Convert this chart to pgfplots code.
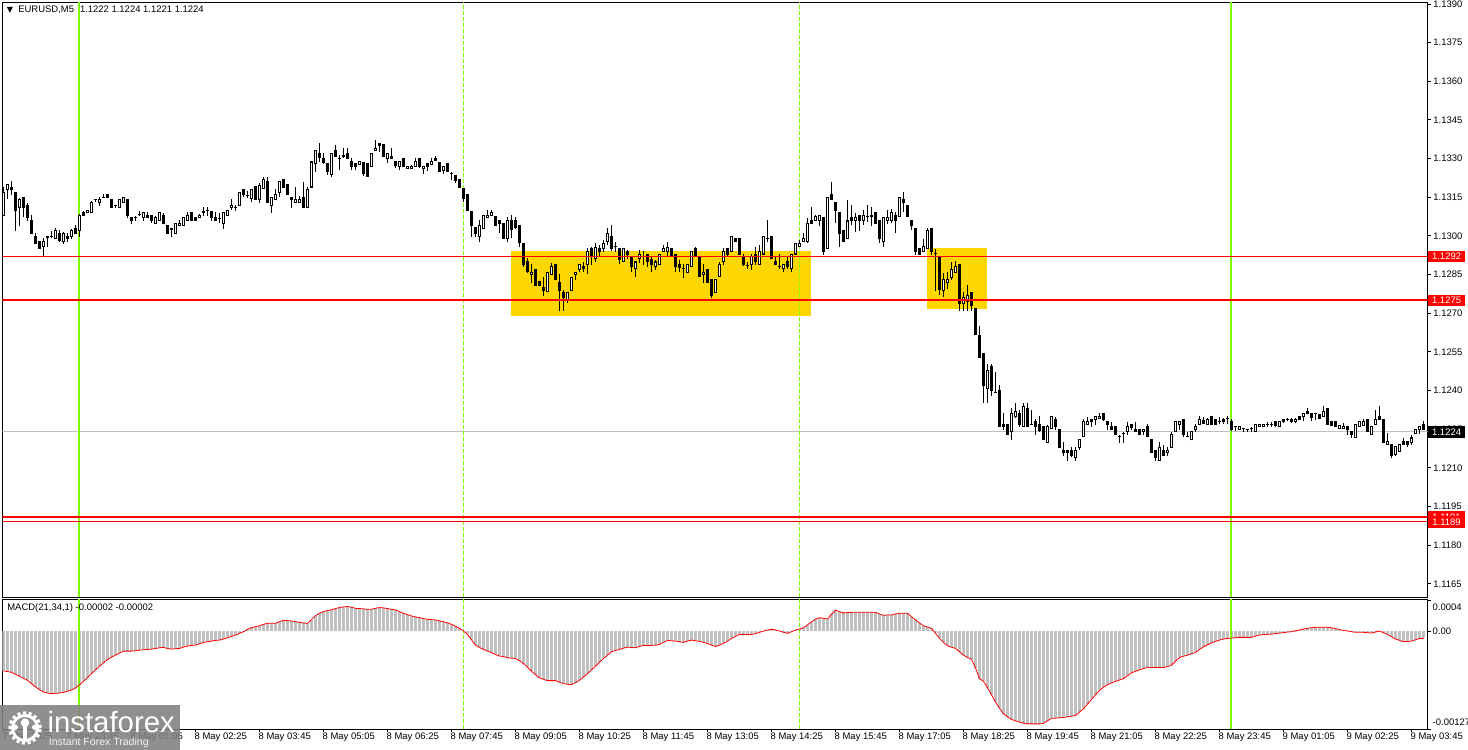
\documentclass[border=0pt]{standalone}
\usepackage{fontspec}
\setmainfont{Liberation Sans}
\newfontfamily\symfont{DejaVu Sans}
\usepackage{pgfplots}
\usepackage{pgfplotstable}
\pgfplotsset{compat=1.18}
\definecolor{limeline}{HTML}{7CFC00}
\definecolor{boxgold}{HTML}{FFD700}
\definecolor{histgray}{HTML}{C0C0C0}
\newcommand{\chartfont}{\fontsize{7.1}{8.5}\selectfont}

% EURUSD M5: bar, open, high, low, close
\pgfplotstableread{
k o h l c
0 1.13079 1.13191 1.13079 1.13168
1 1.13181 1.13202 1.13144 1.13201
2 1.13189 1.13213 1.13159 1.13181
3 1.13170 1.13172 1.13021 1.13098
4 1.13110 1.13147 1.13039 1.13144
5 1.13150 1.13151 1.13074 1.13110
6 1.13120 1.13129 1.13059 1.13069
7 1.13062 1.13081 1.13009 1.13009
8 1.12999 1.13010 1.12970 1.12970
9 1.12981 1.12981 1.12951 1.12951
10 1.12958 1.12991 1.12922 1.12981
11 1.12995 1.13000 1.12958 1.12996
12 1.12998 1.13021 1.12991 1.13000
13 1.12990 1.13030 1.12988 1.13023
14 1.13012 1.13023 1.12978 1.12981
15 1.12976 1.13017 1.12969 1.13010
16 1.13000 1.13010 1.12976 1.12990
17 1.12997 1.13027 1.12988 1.13023
18 1.13031 1.13043 1.13008 1.13008
19 1.13021 1.13085 1.12995 1.13081
20 1.13092 1.13097 1.13078 1.13078
21 1.13090 1.13101 1.13090 1.13101
22 1.13090 1.13136 1.13090 1.13131
23 1.13142 1.13144 1.13131 1.13143
24 1.13129 1.13152 1.13116 1.13144
25 1.13149 1.13162 1.13149 1.13149
26 1.13162 1.13162 1.13149 1.13149
27 1.13144 1.13144 1.13109 1.13110
28 1.13118 1.13118 1.13110 1.13118
29 1.13110 1.13144 1.13110 1.13142
30 1.13129 1.13151 1.13129 1.13150
31 1.13144 1.13144 1.13071 1.13078
32 1.13073 1.13073 1.13047 1.13059
33 1.13070 1.13079 1.13059 1.13070
34 1.13081 1.13098 1.13078 1.13081
35 1.13070 1.13093 1.13058 1.13092
36 1.13081 1.13092 1.13070 1.13070
37 1.13081 1.13081 1.13052 1.13059
38 1.13047 1.13078 1.13047 1.13073
39 1.13059 1.13093 1.13059 1.13092
40 1.13081 1.13090 1.13047 1.13047
41 1.13043 1.13043 1.13009 1.13009
42 1.13026 1.13030 1.12997 1.13026
43 1.13009 1.13050 1.13009 1.13049
44 1.13040 1.13062 1.13040 1.13049
45 1.13040 1.13074 1.13040 1.13073
46 1.13059 1.13092 1.13059 1.13081
47 1.13092 1.13092 1.13059 1.13059
48 1.13071 1.13071 1.13059 1.13059
49 1.13070 1.13085 1.13070 1.13081
50 1.13092 1.13111 1.13078 1.13092
51 1.13098 1.13111 1.13078 1.13098
52 1.13094 1.13094 1.13059 1.13070
53 1.13073 1.13093 1.13059 1.13059
54 1.13065 1.13088 1.13049 1.13065
55 1.13047 1.13092 1.13027 1.13092
56 1.13079 1.13101 1.13079 1.13101
57 1.13110 1.13142 1.13101 1.13120
58 1.13111 1.13120 1.13098 1.13111
59 1.13119 1.13170 1.13119 1.13170
60 1.13181 1.13181 1.13151 1.13159
61 1.13156 1.13176 1.13146 1.13156
62 1.13144 1.13181 1.13132 1.13181
63 1.13191 1.13191 1.13142 1.13142
64 1.13142 1.13204 1.13129 1.13198
65 1.13185 1.13230 1.13185 1.13220
66 1.13213 1.13230 1.13129 1.13129
67 1.13118 1.13151 1.13090 1.13149
68 1.13142 1.13181 1.13142 1.13163
69 1.13168 1.13213 1.13153 1.13213
70 1.13220 1.13220 1.13189 1.13189
71 1.13201 1.13201 1.13159 1.13159
72 1.13149 1.13149 1.13110 1.13140
73 1.13129 1.13189 1.13129 1.13144
74 1.13129 1.13156 1.13129 1.13144
75 1.13149 1.13211 1.13109 1.13111
76 1.13111 1.13190 1.13111 1.13181
77 1.13189 1.13291 1.13189 1.13288
78 1.13282 1.13334 1.13249 1.13334
79 1.13321 1.13360 1.13288 1.13305
80 1.13301 1.13321 1.13278 1.13286
81 1.13282 1.13282 1.13237 1.13249
82 1.13237 1.13321 1.13230 1.13321
83 1.13334 1.13353 1.13308 1.13308
84 1.13301 1.13314 1.13256 1.13301
85 1.13314 1.13340 1.13301 1.13307
86 1.13321 1.13340 1.13299 1.13299
87 1.13291 1.13303 1.13256 1.13269
88 1.13282 1.13282 1.13256 1.13269
89 1.13278 1.13291 1.13278 1.13291
90 1.13286 1.13286 1.13233 1.13240
91 1.13282 1.13282 1.13230 1.13230
92 1.13269 1.13321 1.13269 1.13321
93 1.13331 1.13372 1.13331 1.13340
94 1.13360 1.13360 1.13326 1.13350
95 1.13356 1.13357 1.13308 1.13308
96 1.13299 1.13321 1.13282 1.13321
97 1.13310 1.13340 1.13299 1.13299
98 1.13291 1.13291 1.13264 1.13273
99 1.13269 1.13291 1.13256 1.13291
100 1.13301 1.13301 1.13269 1.13269
101 1.13260 1.13269 1.13260 1.13269
102 1.13260 1.13275 1.13260 1.13269
103 1.13269 1.13301 1.13269 1.13291
104 1.13301 1.13301 1.13263 1.13269
105 1.13260 1.13269 1.13240 1.13269
106 1.13282 1.13282 1.13253 1.13269
107 1.13278 1.13304 1.13278 1.13291
108 1.13301 1.13310 1.13291 1.13291
109 1.13286 1.13286 1.13249 1.13249
110 1.13253 1.13269 1.13240 1.13269
111 1.13282 1.13282 1.13249 1.13249
112 1.13240 1.13249 1.13217 1.13240
113 1.13234 1.13234 1.13207 1.13213
114 1.13220 1.13220 1.13189 1.13189
115 1.13185 1.13185 1.13133 1.13146
116 1.13163 1.13163 1.13098 1.13098
117 1.13094 1.13094 1.12997 1.13040
118 1.13032 1.13032 1.12997 1.13009
119 1.12997 1.13062 1.12978 1.13043
120 1.13027 1.13081 1.13027 1.13081
121 1.13071 1.13101 1.13071 1.13081
122 1.13079 1.13101 1.13079 1.13092
123 1.13075 1.13075 1.13040 1.13040
124 1.13059 1.13059 1.13010 1.13047
125 1.13049 1.13049 1.12991 1.12991
126 1.12988 1.13075 1.12978 1.13062
127 1.13059 1.13081 1.12991 1.13023
128 1.13062 1.13074 1.13027 1.13031
129 1.13043 1.13043 1.12958 1.12973
130 1.12972 1.12972 1.12881 1.12887
131 1.12903 1.12915 1.12858 1.12860
132 1.12851 1.12890 1.12816 1.12859
133 1.12872 1.12872 1.12807 1.12807
134 1.12823 1.12823 1.12807 1.12807
135 1.12802 1.12842 1.12767 1.12787
136 1.12782 1.12859 1.12782 1.12859
137 1.12851 1.12894 1.12849 1.12884
138 1.12891 1.12891 1.12829 1.12829
139 1.12820 1.12851 1.12709 1.12787
140 1.12782 1.12790 1.12710 1.12761
141 1.12754 1.12782 1.12739 1.12782
142 1.12788 1.12840 1.12788 1.12840
143 1.12849 1.12859 1.12829 1.12859
144 1.12868 1.12890 1.12859 1.12890
145 1.12884 1.12900 1.12861 1.12872
146 1.12890 1.12953 1.12851 1.12942
147 1.12952 1.12958 1.12887 1.12920
148 1.12910 1.12972 1.12900 1.12958
149 1.12952 1.12965 1.12924 1.12939
150 1.12952 1.12984 1.12939 1.12972
151 1.12978 1.13030 1.12965 1.13010
152 1.13000 1.13043 1.12942 1.12952
153 1.12958 1.12978 1.12939 1.12958
154 1.12952 1.12952 1.12890 1.12907
155 1.12900 1.12952 1.12900 1.12952
156 1.12942 1.12946 1.12910 1.12926
157 1.12920 1.12920 1.12861 1.12881
158 1.12871 1.12900 1.12840 1.12900
159 1.12910 1.12946 1.12894 1.12929
160 1.12920 1.12942 1.12887 1.12920
161 1.12929 1.12929 1.12881 1.12900
162 1.12910 1.12922 1.12861 1.12887
163 1.12881 1.12907 1.12868 1.12900
164 1.12887 1.12929 1.12887 1.12929
165 1.12939 1.12965 1.12939 1.12952
166 1.12939 1.12978 1.12924 1.12958
167 1.12952 1.12952 1.12920 1.12920
168 1.12929 1.12929 1.12859 1.12879
169 1.12890 1.12907 1.12861 1.12877
170 1.12872 1.12890 1.12838 1.12872
171 1.12859 1.12890 1.12859 1.12890
172 1.12881 1.12939 1.12881 1.12939
173 1.12952 1.12958 1.12920 1.12920
174 1.12920 1.12920 1.12840 1.12840
175 1.12851 1.12890 1.12816 1.12859
176 1.12872 1.12872 1.12819 1.12819
177 1.12833 1.12833 1.12761 1.12767
178 1.12778 1.12833 1.12778 1.12833
179 1.12840 1.12900 1.12840 1.12890
180 1.12900 1.12952 1.12887 1.12939
181 1.12952 1.12952 1.12920 1.12929
182 1.12939 1.13000 1.12939 1.13000
183 1.12991 1.12991 1.12978 1.12978
184 1.12991 1.12991 1.12926 1.12929
185 1.12920 1.12929 1.12884 1.12887
186 1.12884 1.12900 1.12871 1.12884
187 1.12887 1.12929 1.12868 1.12920
188 1.12929 1.12958 1.12887 1.12900
189 1.12890 1.12965 1.12890 1.12939
190 1.12929 1.13000 1.12929 1.13000
191 1.12988 1.13062 1.12978 1.12988
192 1.13000 1.13000 1.12910 1.12910
193 1.12903 1.12920 1.12890 1.12890
194 1.12881 1.12929 1.12871 1.12881
195 1.12871 1.12890 1.12859 1.12890
196 1.12900 1.12920 1.12871 1.12881
197 1.12871 1.12929 1.12859 1.12929
198 1.12929 1.12972 1.12929 1.12972
199 1.12958 1.12984 1.12958 1.12972
200 1.12978 1.13010 1.12978 1.12991
201 1.12978 1.13070 1.12973 1.13049
202 1.13062 1.13111 1.13049 1.13049
203 1.13059 1.13081 1.13059 1.13075
204 1.13059 1.13081 1.13039 1.13079
205 1.13071 1.13071 1.12926 1.12939
206 1.12952 1.13149 1.12952 1.13149
207 1.13163 1.13211 1.13142 1.13142
208 1.13131 1.13131 1.13049 1.13098
209 1.13092 1.13092 1.12958 1.13010
210 1.13021 1.13021 1.12978 1.12978
211 1.12988 1.13140 1.12988 1.13059
212 1.13073 1.13120 1.13043 1.13059
213 1.13059 1.13088 1.13017 1.13073
214 1.13079 1.13079 1.13021 1.13059
215 1.13059 1.13101 1.13043 1.13081
216 1.13073 1.13120 1.13055 1.13073
217 1.13073 1.13111 1.13040 1.13079
218 1.13092 1.13092 1.13047 1.13047
219 1.13062 1.13062 1.12974 1.12988
220 1.12978 1.13073 1.12958 1.13073
221 1.13059 1.13101 1.13047 1.13073
222 1.13059 1.13105 1.13049 1.13092
223 1.13081 1.13093 1.13010 1.13059
224 1.13073 1.13150 1.13073 1.13150
225 1.13142 1.13172 1.13092 1.13129
226 1.13120 1.13120 1.13073 1.13073
227 1.13062 1.13062 1.13023 1.13039
228 1.13030 1.13030 1.12926 1.12939
229 1.12952 1.12952 1.12926 1.12929
230 1.12939 1.12988 1.12939 1.12961
231 1.12950 1.13031 1.12950 1.13023
232 1.13030 1.13030 1.12926 1.12939
233 1.12930 1.12950 1.12787 1.12930
234 1.12920 1.12922 1.12771 1.12790
235 1.12788 1.12858 1.12762 1.12832
236 1.12819 1.12862 1.12793 1.12832
237 1.12838 1.12900 1.12829 1.12871
238 1.12859 1.12903 1.12859 1.12884
239 1.12890 1.12890 1.12710 1.12736
240 1.12736 1.12782 1.12710 1.12762
241 1.12745 1.12810 1.12710 1.12771
242 1.12782 1.12782 1.12710 1.12730
243 1.12719 1.12719 1.12616 1.12616
244 1.12613 1.12651 1.12529 1.12529
245 1.12545 1.12545 1.12351 1.12419
246 1.12406 1.12503 1.12351 1.12480
247 1.12493 1.12503 1.12380 1.12400
248 1.12390 1.12473 1.12390 1.12390
249 1.12402 1.12422 1.12260 1.12260
250 1.12271 1.12312 1.12247 1.12260
251 1.12271 1.12271 1.12228 1.12228
252 1.12241 1.12331 1.12208 1.12312
253 1.12299 1.12351 1.12294 1.12321
254 1.12312 1.12325 1.12260 1.12267
255 1.12260 1.12351 1.12260 1.12340
256 1.12331 1.12351 1.12260 1.12260
257 1.12269 1.12323 1.12267 1.12269
258 1.12280 1.12290 1.12228 1.12260
259 1.12269 1.12302 1.12241 1.12245
260 1.12260 1.12260 1.12208 1.12208
261 1.12198 1.12267 1.12198 1.12260
262 1.12250 1.12299 1.12250 1.12299
263 1.12290 1.12299 1.12247 1.12260
264 1.12250 1.12250 1.12179 1.12179
265 1.12170 1.12200 1.12146 1.12157
266 1.12170 1.12170 1.12128 1.12159
267 1.12167 1.12180 1.12141 1.12148
268 1.12140 1.12180 1.12128 1.12170
269 1.12179 1.12211 1.12170 1.12211
270 1.12219 1.12290 1.12219 1.12282
271 1.12268 1.12299 1.12268 1.12281
272 1.12290 1.12290 1.12260 1.12280
273 1.12286 1.12299 1.12267 1.12299
274 1.12290 1.12312 1.12290 1.12302
275 1.12312 1.12312 1.12280 1.12286
276 1.12282 1.12282 1.12247 1.12267
277 1.12263 1.12280 1.12247 1.12247
278 1.12260 1.12260 1.12228 1.12228
279 1.12219 1.12228 1.12198 1.12219
280 1.12231 1.12241 1.12198 1.12231
281 1.12241 1.12280 1.12228 1.12260
282 1.12269 1.12269 1.12247 1.12257
283 1.12250 1.12280 1.12241 1.12241
284 1.12250 1.12250 1.12228 1.12228
285 1.12241 1.12250 1.12228 1.12250
286 1.12260 1.12269 1.12219 1.12219
287 1.12211 1.12211 1.12159 1.12159
288 1.12170 1.12170 1.12128 1.12140
289 1.12128 1.12200 1.12128 1.12180
290 1.12170 1.12189 1.12148 1.12148
291 1.12159 1.12180 1.12146 1.12170
292 1.12179 1.12241 1.12179 1.12231
293 1.12241 1.12280 1.12241 1.12280
294 1.12267 1.12280 1.12247 1.12280
295 1.12290 1.12290 1.12219 1.12228
296 1.12219 1.12241 1.12219 1.12219
297 1.12208 1.12241 1.12208 1.12241
298 1.12247 1.12271 1.12241 1.12260
299 1.12267 1.12302 1.12267 1.12290
300 1.12286 1.12299 1.12271 1.12271
301 1.12269 1.12294 1.12269 1.12289
302 1.12299 1.12299 1.12269 1.12269
303 1.12289 1.12290 1.12269 1.12269
304 1.12280 1.12299 1.12269 1.12280
305 1.12289 1.12294 1.12269 1.12280
306 1.12289 1.12302 1.12269 1.12289
307 1.12282 1.12290 1.12243 1.12247
308 1.12258 1.12258 1.12245 1.12258
309 1.12247 1.12260 1.12247 1.12260
310 1.12250 1.12250 1.12241 1.12250
311 1.12247 1.12249 1.12241 1.12247
312 1.12250 1.12260 1.12241 1.12250
313 1.12241 1.12269 1.12241 1.12269
314 1.12260 1.12269 1.12260 1.12269
315 1.12260 1.12269 1.12260 1.12269
316 1.12269 1.12280 1.12260 1.12269
317 1.12269 1.12280 1.12260 1.12269
318 1.12280 1.12280 1.12260 1.12263
319 1.12260 1.12282 1.12260 1.12282
320 1.12289 1.12290 1.12276 1.12280
321 1.12286 1.12293 1.12280 1.12286
322 1.12289 1.12294 1.12273 1.12280
323 1.12280 1.12294 1.12273 1.12289
324 1.12299 1.12299 1.12286 1.12286
325 1.12299 1.12312 1.12280 1.12312
326 1.12321 1.12331 1.12309 1.12309
327 1.12312 1.12312 1.12280 1.12293
328 1.12309 1.12313 1.12286 1.12309
329 1.12309 1.12309 1.12289 1.12289
330 1.12299 1.12340 1.12299 1.12321
331 1.12331 1.12331 1.12269 1.12269
332 1.12280 1.12280 1.12263 1.12263
333 1.12282 1.12282 1.12260 1.12260
334 1.12250 1.12267 1.12250 1.12267
335 1.12250 1.12274 1.12250 1.12260
336 1.12263 1.12263 1.12228 1.12247
337 1.12243 1.12243 1.12217 1.12228
338 1.12217 1.12269 1.12217 1.12269
339 1.12260 1.12280 1.12260 1.12280
340 1.12263 1.12290 1.12263 1.12282
341 1.12289 1.12289 1.12241 1.12241
342 1.12228 1.12263 1.12228 1.12263
343 1.12269 1.12323 1.12269 1.12289
344 1.12299 1.12340 1.12286 1.12286
345 1.12289 1.12289 1.12198 1.12198
346 1.12189 1.12234 1.12189 1.12202
347 1.12192 1.12192 1.12140 1.12146
348 1.12150 1.12183 1.12146 1.12183
349 1.12163 1.12192 1.12163 1.12192
350 1.12202 1.12217 1.12189 1.12189
351 1.12202 1.12202 1.12181 1.12189
352 1.12198 1.12228 1.12189 1.12217
353 1.12231 1.12250 1.12231 1.12250
354 1.12247 1.12263 1.12231 1.12263
355 1.12269 1.12282 1.12247 1.12247
}\candles

% MACD(21,34,1) value per bar
\pgfplotstableread{
k m
0 -0.000515
1 -0.000524
2 -0.000533
3 -0.000559
4 -0.000585
5 -0.000610
6 -0.000637
7 -0.000680
8 -0.000723
9 -0.000758
10 -0.000788
11 -0.000801
12 -0.000810
13 -0.000805
14 -0.000801
15 -0.000792
16 -0.000779
17 -0.000762
18 -0.000736
19 -0.000697
20 -0.000650
21 -0.000602
22 -0.000550
23 -0.000502
24 -0.000455
25 -0.000411
26 -0.000368
27 -0.000338
28 -0.000312
29 -0.000286
30 -0.000260
31 -0.000260
32 -0.000260
33 -0.000255
34 -0.000247
35 -0.000242
36 -0.000238
37 -0.000234
38 -0.000225
39 -0.000217
40 -0.000212
41 -0.000225
42 -0.000234
43 -0.000229
44 -0.000225
45 -0.000208
46 -0.000195
47 -0.000186
48 -0.000182
49 -0.000165
50 -0.000147
51 -0.000139
52 -0.000130
53 -0.000121
54 -0.000117
55 -0.000104
56 -0.000087
57 -0.000069
58 -0.000052
59 -0.000030
60 -0.000009
61 0.000022
62 0.000043
63 0.000056
64 0.000069
65 0.000087
66 0.000100
67 0.000100
68 0.000100
69 0.000121
70 0.000139
71 0.000134
72 0.000130
73 0.000121
74 0.000113
75 0.000104
76 0.000100
77 0.000147
78 0.000199
79 0.000230
80 0.000251
81 0.000264
82 0.000273
83 0.000290
84 0.000303
85 0.000312
86 0.000316
87 0.000307
88 0.000294
89 0.000290
90 0.000286
91 0.000281
92 0.000281
93 0.000294
94 0.000303
95 0.000299
96 0.000290
97 0.000281
98 0.000273
99 0.000251
100 0.000229
101 0.000212
102 0.000195
103 0.000182
104 0.000173
105 0.000160
106 0.000152
107 0.000147
108 0.000143
109 0.000130
110 0.000121
111 0.000104
112 0.000087
113 0.000061
114 0.000035
115 0.000000
116 -0.000043
117 -0.000113
118 -0.000182
119 -0.000212
120 -0.000238
121 -0.000260
122 -0.000277
123 -0.000303
124 -0.000325
125 -0.000329
126 -0.000346
127 -0.000351
128 -0.000355
129 -0.000385
130 -0.000420
131 -0.000468
132 -0.000520
133 -0.000563
134 -0.000606
135 -0.000624
136 -0.000641
137 -0.000641
138 -0.000641
139 -0.000662
140 -0.000680
141 -0.000688
142 -0.000693
143 -0.000667
144 -0.000637
145 -0.000593
146 -0.000550
147 -0.000502
148 -0.000455
149 -0.000403
150 -0.000355
151 -0.000312
152 -0.000268
153 -0.000251
154 -0.000238
155 -0.000221
156 -0.000208
157 -0.000212
158 -0.000217
159 -0.000199
160 -0.000186
161 -0.000186
162 -0.000186
163 -0.000182
164 -0.000173
165 -0.000147
166 -0.000121
167 -0.000126
168 -0.000130
169 -0.000139
170 -0.000147
171 -0.000130
172 -0.000117
173 -0.000126
174 -0.000134
175 -0.000147
176 -0.000160
177 -0.000182
178 -0.000199
179 -0.000182
180 -0.000160
181 -0.000130
182 -0.000095
183 -0.000069
184 -0.000043
185 -0.000043
186 -0.000048
187 -0.000043
188 -0.000035
189 -0.000017
190 0.000000
191 0.000013
192 0.000022
193 0.000013
194 0.000000
195 -0.000017
196 -0.000030
197 -0.000009
198 0.000013
199 0.000026
200 0.000043
201 0.000078
202 0.000121
203 0.000152
204 0.000173
205 0.000165
206 0.000156
207 0.000217
208 0.000268
209 0.000251
210 0.000234
211 0.000238
212 0.000242
213 0.000242
214 0.000242
215 0.000242
216 0.000242
217 0.000242
218 0.000242
219 0.000221
220 0.000203
221 0.000208
222 0.000208
223 0.000221
224 0.000229
225 0.000229
226 0.000229
227 0.000186
228 0.000143
229 0.000104
230 0.000069
231 0.000052
232 0.000035
233 -0.000030
234 -0.000095
235 -0.000147
236 -0.000191
237 -0.000208
238 -0.000225
239 -0.000268
240 -0.000312
241 -0.000342
242 -0.000364
243 -0.000476
244 -0.000615
245 -0.000650
246 -0.000732
247 -0.000823
248 -0.000918
249 -0.000996
250 -0.001070
251 -0.001108
252 -0.001143
253 -0.001160
254 -0.001178
255 -0.001190
256 -0.001200
257 -0.001200
258 -0.001200
259 -0.001200
260 -0.001195
261 -0.001160
262 -0.001126
263 -0.001126
264 -0.001121
265 -0.001117
266 -0.001108
267 -0.001100
268 -0.001091
269 -0.001048
270 -0.001005
271 -0.000944
272 -0.000883
273 -0.000823
274 -0.000766
275 -0.000727
276 -0.000693
277 -0.000671
278 -0.000650
279 -0.000632
280 -0.000615
281 -0.000576
282 -0.000541
283 -0.000520
284 -0.000502
285 -0.000485
286 -0.000468
287 -0.000472
288 -0.000472
289 -0.000472
290 -0.000472
291 -0.000459
292 -0.000442
293 -0.000390
294 -0.000342
295 -0.000325
296 -0.000312
297 -0.000294
298 -0.000277
299 -0.000238
300 -0.000204
301 -0.000178
302 -0.000152
303 -0.000134
304 -0.000117
305 -0.000104
306 -0.000095
307 -0.000091
308 -0.000087
309 -0.000082
310 -0.000082
311 -0.000082
312 -0.000082
313 -0.000065
314 -0.000052
315 -0.000048
316 -0.000043
317 -0.000039
318 -0.000035
319 -0.000026
320 -0.000022
321 -0.000013
322 -0.000009
323 0.000004
324 0.000013
325 0.000026
326 0.000035
327 0.000043
328 0.000048
329 0.000048
330 0.000048
331 0.000048
332 0.000043
333 0.000030
334 0.000017
335 0.000009
336 0.000000
337 -0.000009
338 -0.000017
339 -0.000017
340 -0.000017
341 -0.000022
342 -0.000026
343 -0.000013
344 0.000000
345 -0.000022
346 -0.000043
347 -0.000074
348 -0.000104
349 -0.000121
350 -0.000139
351 -0.000135
352 -0.000130
353 -0.000113
354 -0.000095
355 -0.000095
}\macd

\pgfplotsset{
  mtpanel/.style={
    scale only axis, width=1068.75pt,
    xmin=-0.25, xmax=356,
    anchor=south west,
    clip mode=individual,
    axis line style={black, line width=0.75pt},
    tick style={black, line width=0.75pt},
    major tick length=2.25pt,
    tick align=outside,
    ticklabel style={font=\chartfont},
  },
  wick/.style={draw=none, mark=none, forget plot, error bars/.cd, y dir=plus, y explicit, error mark=none,
    error bar style={black, line width=0.75pt}},
  body/.style={draw=none, mark=none, forget plot, error bars/.cd, y dir=plus, y explicit, error mark=none,
    error bar style={black, line width=2.25pt}},
  core/.style={draw=none, mark=none, forget plot, error bars/.cd, y dir=plus, y explicit, error mark=none,
    error bar style={white, line width=0.75pt}},
}

\begin{document}
\begin{tikzpicture}
\path[use as bounding box] (0,0) rectangle (1101pt,562.5pt);

% price panel
\begin{axis}[
  mtpanel,
  at={(1.875pt,114.375pt)},
  height=446.25pt,
  ymin=1.11597, ymax=1.13906,
  xtick=\empty,
  ytick={1.1165,1.1180,1.1195,1.1210,1.1225,1.1240,1.1255,1.1270,1.1285,1.1300,1.1315,1.1330,1.1345,1.1360,1.1375,1.1390},
  yticklabels={1.1165,1.1180,1.1195,1.1210,1.1225,1.1240,1.1255,1.1270,1.1285,1.1300,1.1315,1.1330,1.1345,1.1360,1.1375,1.1390},
  ytick pos=right, yticklabel pos=right,
  yticklabel style={anchor=west, inner sep=0pt, xshift=2pt},
]
\addplot [boxgold, fill=boxgold, draw=none, forget plot] coordinates {(126.875,1.12690) (201.875,1.12690) (201.875,1.12942) (126.875,1.12942)} -- cycle;
\addplot [boxgold, fill=boxgold, draw=none, forget plot] coordinates {(230.875,1.12717) (245.875,1.12717) (245.875,1.12953) (230.875,1.12953)} -- cycle;
\addplot [histgray, line width=0.75pt] coordinates {(-0.25,1.1224) (356,1.1224)};
\addplot [limeline, line width=1.5pt] coordinates {(18.875,1.11597) (18.875,1.13906)};
\addplot [limeline, line width=1.5pt] coordinates {(306.875,1.11597) (306.875,1.13906)};
\addplot [limeline, line width=0.75pt, dash pattern=on 3pt off 1.5pt] coordinates {(115,1.11597) (115,1.13906)};
\addplot [limeline, line width=0.75pt, dash pattern=on 3pt off 1.5pt] coordinates {(199,1.11597) (199,1.13906)};

% candles: wick, body, then the hollow inside of rising bars
\addplot [wick] table [x=k, y=l, y error expr={\thisrow{h}-\thisrow{l}}] {\candles};
\addplot [body] table [x=k, y expr={min(\thisrow{o},\thisrow{c})-0.00001}, y error expr={max(abs(\thisrow{c}-\thisrow{o}),0.00002)+0.00002}] {\candles};
\addplot [core] table [x=k, y expr={\thisrow{o}+0.00003}, y error expr={max(\thisrow{c}-\thisrow{o}-0.00006,0)}] {\candles};

\addplot [red, line width=0.75pt] coordinates {(-0.25,1.1292) (356,1.1292)};
\addplot [red, line width=1.5pt] coordinates {(-0.25,1.1275) (356,1.1275)};
\addplot [red, line width=1.5pt] coordinates {(-0.25,1.1191) (356,1.1191)};
\addplot [red, line width=0.75pt] coordinates {(-0.25,1.1189) (356,1.1189)};

\tikzset{tag/.style={anchor=west, inner sep=0pt, minimum height=8.6pt, minimum width=27.75pt, font=\chartfont, text=white}}
\node [tag, fill=red] at (axis cs:356.07,1.1292) {1.1292};
\node [tag, fill=red] at (axis cs:356.07,1.1275) {1.1275};
\node [tag, fill=black] at (axis cs:356.07,1.1224) {1.1224};
\node [tag, fill=red] at (axis cs:356.07,1.1191) {1.1191};
\node [tag, fill=red] at (axis cs:356.07,1.1189) {1.1189};
\end{axis}

% MACD panel
\begin{axis}[
  mtpanel,
  at={(1.875pt,15.525pt)},
  height=97.5pt,
  ymin=-0.00127, ymax=0.00041,
  scaled y ticks=false,
  ytick={-0.00127,0,0.0004},
  yticklabels={,,},
  ytick pos=right,
  xtick={0,16,32,48,64,80,96,112,128,144,160,176,192,208,224,240,256,272,288,304,320,336,352},
  xticklabels={7 May 2025,7 May 23:45,8 May 01:05,8 May 02:25,8 May 03:45,8 May 05:05,8 May 06:25,8 May 07:45,8 May 09:05,8 May 10:25,8 May 11:45,8 May 13:05,8 May 14:25,8 May 15:45,8 May 17:05,8 May 18:25,8 May 19:45,8 May 21:05,8 May 22:25,8 May 23:45,9 May 01:05,9 May 02:25,9 May 03:45},
  xtick pos=bottom,
  xticklabel style={anchor=north west, inner sep=0pt, xshift=-0.8pt, yshift=-0.4pt},
]
\addplot [ycomb, histgray, line width=1.9pt, mark=none] table [x=k, y=m] {\macd};
\addplot [limeline, line width=1.5pt] coordinates {(18.875,-0.00127) (18.875,0.00041)};
\addplot [limeline, line width=1.5pt] coordinates {(306.875,-0.00127) (306.875,0.00041)};
\addplot [limeline, line width=0.75pt, dash pattern=on 3pt off 1.5pt] coordinates {(115,-0.00127) (115,0.00041)};
\addplot [limeline, line width=0.75pt, dash pattern=on 3pt off 1.5pt] coordinates {(199,-0.00127) (199,0.00041)};
\addplot [red, line width=0.6pt] table [x=k, y=m] {\macd};
\node [anchor=west, inner sep=0pt, font=\chartfont] at (axis cs:356.07,0.00031) {\hspace{3.5pt}0.0004};
\node [anchor=west, inner sep=0pt, font=\chartfont] at (axis cs:356.07,0) {\hspace{3.5pt}0.00};
\node [anchor=west, inner sep=0pt, font=\chartfont] at (axis cs:356.07,-0.00118) {\hspace{3.5pt}-0.00127};
\end{axis}

% panel captions
\node [anchor=west, inner sep=0pt, font=\fontsize{6}{7}\selectfont\symfont] at (5pt,555pt) {▼};
\node [anchor=west, inner sep=0pt, font=\chartfont] at (13.5pt,555pt) {EURUSD,M5\hspace{4.5pt}1.1222 1.1224 1.1221 1.1224};
\node [anchor=west, inner sep=0pt, font=\chartfont] at (5.3pt,106.5pt) {MACD(21,34,1) -0.00002 -0.00002};

% broker mark
\fill [gray, opacity=0.88] (0,0) rectangle (135pt,33.75pt);
\draw [white, line width=2.6pt, dash pattern=on 2.3pt off 1.9pt] (18.75pt,16.5pt) circle (11.2pt);
\draw [white, line width=2.2pt] (18.75pt,16.5pt) circle (9.4pt);
\fill [white] (18.75pt,20.5pt) circle (3.2pt);
\fill [white] (11.5pt,17pt) circle (2pt);
\fill [white] (26pt,17pt) circle (2pt);
\fill [white] (17.5pt,7.5pt) rectangle (20pt,18pt);
\node [anchor=base west, inner sep=0pt, text=white, font=\fontsize{22}{24}\selectfont] at (35.5pt,13pt) {instaforex};
\node [anchor=base west, inner sep=0pt, text=white!90!gray, font=\fontsize{7.9}{9}\selectfont] at (36.5pt,3.5pt) {Instant Forex Trading};
\end{tikzpicture}
\end{document}
